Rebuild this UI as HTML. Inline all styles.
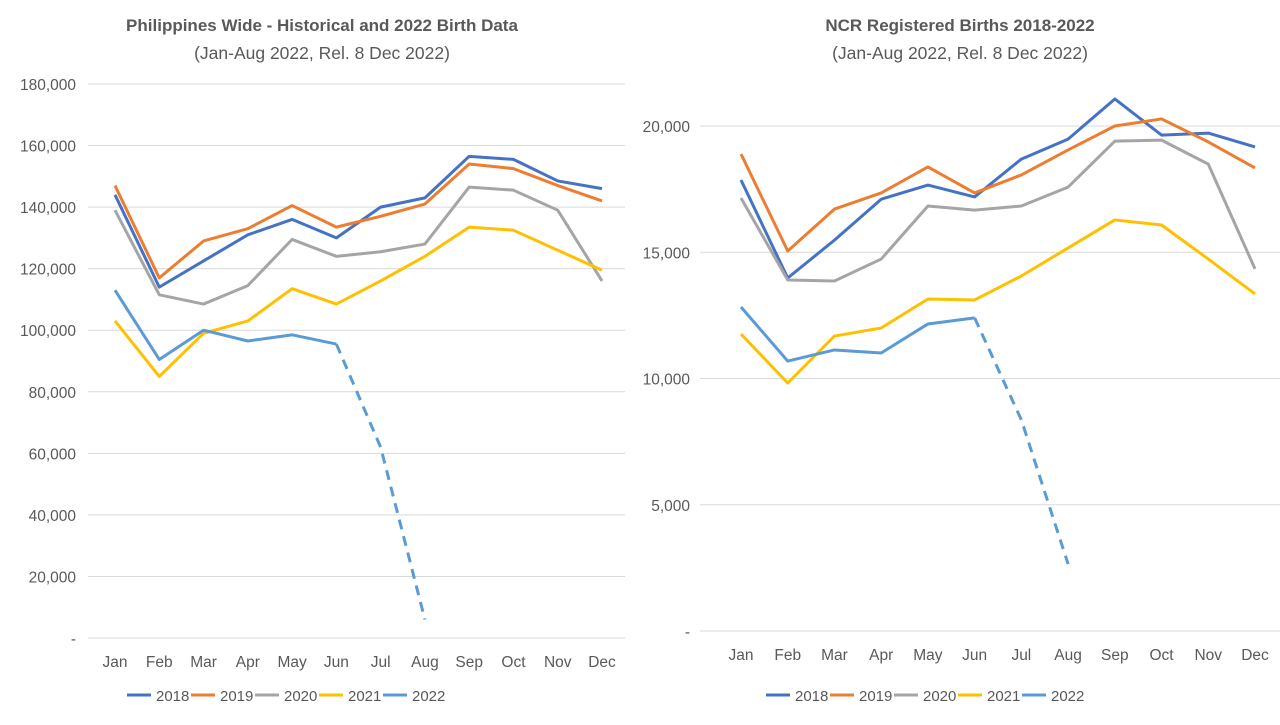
<!DOCTYPE html>
<html><head><meta charset="utf-8"><style>
body{margin:0;background:#fff;font-family:"Liberation Sans",Arial,sans-serif;}
svg text{font-family:"Liberation Sans",Arial,sans-serif;}
</style></head><body>
<svg id="c" width="1280" height="720" viewBox="0 0 1280 720"></svg>
<script>
const months=["Jan","Feb","Mar","Apr","May","Jun","Jul","Aug","Sep","Oct","Nov","Dec"];
const years=["2018","2019","2020","2021","2022"];
const colors=["#4472C4","#ED7D31","#A5A5A5","#FFC000","#5B9BD5"];
const phTicks=["-","20,000","40,000","60,000","80,000","100,000","120,000","140,000","160,000","180,000"];
const ph2018=[144000,114000,122500,131000,136000,130000,140000,143000,156500,155500,148500,146000];
const ph2019=[147000,117000,129000,133000,140500,133500,137000,141000,154000,152500,147000,142000];
const ph2020=[139000,111500,108500,114500,129500,124000,125500,128000,146500,145500,139000,116000];
const ph2021=[103000,85000,99000,103000,113500,108500,116000,124000,133500,132500,126000,119500];
const ph2022=[113000,90500,100000,96500,98500,95500,62000,6000];
const ncrTicks=["-","5,000","10,000","15,000","20,000"];
const ncr2018=[17860,13980,15480,17100,17660,17190,18690,19480,21070,19640,19720,19170];
const ncr2019=[18890,15050,16710,17350,18380,17350,18060,19050,20000,20280,19370,18340];
const ncr2020=[17150,13900,13860,14730,16830,16670,16830,17580,19400,19440,18490,14340];
const ncr2021=[11760,9820,11680,12000,13150,13110,14060,15170,16280,16080,14730,13350];
const ncr2022=[12830,10690,11130,11010,12160,12400,8360,2650];
const svg=document.getElementById('c');
const NS="http://www.w3.org/2000/svg";
function mk(t,a,p){const e=document.createElementNS(NS,t);for(const k in a)e.setAttribute(k,a[k]);(p||svg).appendChild(e);return e;}
function chart(o){
 const g=mk('g',{});
 
 
 const y=v=>o.y0-(v/o.max)*(o.y0-o.y1);
 const x=i=>o.x0+i*(o.x1-o.x0)/11;
 o.ticks.forEach((t,i)=>{const v=i*o.step;const yy=y(v);
  const gl=mk('line',{x1:o.gl0,x2:o.gl1,y1:yy,y2:yy,stroke:"#D9D9D9","stroke-width":1},g);
  
  const tx=mk('text',{x:o.tx,y:yy+6,"text-anchor":"end","font-size":15.5,fill:"#595959"},g);tx.textContent=t;
  });
 months.forEach((m,i)=>{const t=mk('text',{x:x(i),y:o.y0+29,"text-anchor":"middle","font-size":15.5,fill:"#595959"},g);t.textContent=m;
  });
 o.series.forEach((s,k)=>{
  const n=k===4?6:s.length;
  const p=mk('polyline',{points:s.slice(0,n).map((v,i)=>x(i)+","+y(v)).join(" "),fill:"none",stroke:colors[k],"stroke-width":3,"stroke-linejoin":"round"},g);
  
  if(k===4){const d=mk('polyline',{points:s.slice(5).map((v,i)=>x(i+5)+","+y(v)).join(" "),fill:"none",stroke:colors[k],"stroke-width":3,"stroke-dasharray":"10,7"},g);
   }
 });
 const t1=mk('text',{x:o.cx,y:31,"text-anchor":"middle","font-size":17,"font-weight":"bold",fill:"#595959"},g);t1.textContent=o.title;
 
 const t2=mk('text',{x:o.cx,y:59,"text-anchor":"middle","font-size":17.5,fill:"#595959"},g);t2.textContent="(Jan-Aug 2022, Rel. 8 Dec 2022)";
 
 years.forEach((yr,k)=>{const lx=o.lx+k*64;
  const lg=mk('g',{},g);
  mk('line',{x1:lx,x2:lx+24,y1:695,y2:695,stroke:colors[k],"stroke-width":3},lg);
  const t=mk('text',{x:lx+29,y:701,"font-size":15,fill:"#595959"},lg);t.textContent=yr;});
}
chart({name:'philippines-chart',x0:115,x1:602,y0:638,y1:84,max:180000,step:20000,ticks:phTicks,gl0:88,gl1:625,tx:76,
 series:[ph2018,ph2019,ph2020,ph2021,ph2022],cx:322,title:"Philippines Wide - Historical and 2022 Birth Data",lx:127});
chart({name:'ncr-chart',x0:741,x1:1255,y0:631,y1:126,max:20000,step:5000,ticks:ncrTicks,gl0:700,gl1:1280,tx:690,
 series:[ncr2018,ncr2019,ncr2020,ncr2021,ncr2022],cx:960,title:"NCR Registered Births 2018-2022",lx:766});
</script>
</body></html>
